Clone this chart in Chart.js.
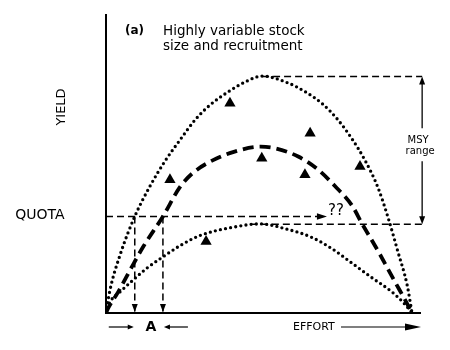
<!DOCTYPE html>
<html>
<head>
<meta charset="utf-8">
<script src="https://cdn.jsdelivr.net/npm/chart.js@4/dist/chart.umd.min.js"></script>
<style>
  html, body { margin: 0; padding: 0; background: #fff; }
  #wrap { width: 450px; height: 350px; }
</style>
</head>
<body>
<div id="wrap"><canvas id="c" width="450" height="350"></canvas></div>
<script>
// Effort: 0 = no fishing, 100 = effort at which the stock is fished out.
// Yield in arbitrary units.

// Yield curve in a good recruitment year (upper dotted)
const upperEffort = [0, 1.3, 4.6, 9.4, 14.4, 19.3, 24.2, 29.1, 34.0, 39.9, 45.4, 51.0, 59.5, 65.0, 70.6, 75.8, 80.4, 84.6, 88.9, 92.2, 95.4, 98.4, 100];
const upperYield  = [0, 7.7, 19.5, 32.4, 42.6, 51.0, 58.1, 64.8, 69.8, 74.2, 77.5, 79.5, 77.2, 74.3, 70.3, 64.8, 58.4, 51.3, 42.0, 31.9, 20.5, 9.4, 0];

// Average yield curve (dashed)
const meanEffort = [0, 0.75, 4.0, 8.4, 12.2, 18.6, 24.2, 28.4, 35.0, 41.5, 50.5, 55.2, 62.8, 69.4, 74.8, 80.3, 83.6, 89.0, 94.4, 98.3, 100];
const meanYield  = [0, 1.7, 7.1, 15.4, 22.3, 32.4, 42.3, 47.0, 51.3, 54.0, 55.8, 55.3, 52.5, 48.0, 42.6, 36.2, 30.1, 20.6, 10.5, 3.3, 0];

// Yield curve in a poor recruitment year (lower dotted)
const lowerEffort = [0, 1.1, 4.6, 8.9, 13.3, 18.7, 24.2, 30.7, 41.6, 50.3, 59.6, 67.2, 73.8, 80.3, 86.8, 93.4, 97.7, 100];
const lowerYield  = [0, 3.3, 7.1, 11.1, 15.0, 18.9, 22.6, 26.0, 28.8, 29.9, 28.0, 25.4, 21.6, 16.8, 11.9, 7.1, 2.9, 0];

// Observed annual catches
const obsEffort = [40.5, 20.9, 66.7, 50.9, 65.0, 83.0, 32.7];
const obsYield  = [70.4, 44.7, 60.3, 51.9, 46.4, 49.2, 24.0];

// Quota and the range of effort needed to take it
const quota = 32.4;
const quotaEffortLow = 9.4;
const quotaEffortHigh = 18.6;
const quotaArrowEffort = 72.2;

// MSY range between the poor-year and good-year peaks
const msyHigh = 79.4;
const msyLow = 29.8;
const msyHighStart = 51.0;
const msyLowStart = 47.0;
const bracketEffort = 103.3;

const pts = (xs, ys) => xs.map((v, i) => ({ x: v, y: ys[i] }));

const curve = (xs, ys, dash, width) => ({
  data: pts(xs, ys), showLine: true, pointRadius: 0, borderColor: '#000',
  borderWidth: width, borderDash: dash, borderCapStyle: dash[0] === 0 ? 'round' : 'butt',
  cubicInterpolationMode: 'monotone', fill: false
});

const refLine = (xs, ys) => ({
  data: pts(xs, ys), showLine: true, pointRadius: 0, borderColor: '#000',
  borderWidth: 1.5, borderDash: [7, 4], tension: 0, fill: false, clip: false
});

function head(ctx, tx, ty, dx, dy, len, hw) {
  const bx = tx - dx * len, by = ty - dy * len;
  ctx.beginPath();
  ctx.moveTo(tx, ty);
  ctx.lineTo(bx - dy * hw, by + dx * hw);
  ctx.lineTo(bx + dy * hw, by - dx * hw);
  ctx.closePath();
  ctx.fill();
}

function seg(ctx, x1, y1, x2, y2) {
  ctx.beginPath(); ctx.moveTo(x1, y1); ctx.lineTo(x2, y2); ctx.stroke();
}

const FONT = '"DejaVu Sans", sans-serif';

const overlay = {
  id: 'overlay',
  afterDatasetsDraw(chart) {
    const { ctx, scales: { x, y } } = chart;
    const px = v => x.getPixelForValue(v), py = v => y.getPixelForValue(v);
    ctx.save();
    ctx.fillStyle = '#000';
    ctx.strokeStyle = '#000';
    ctx.setLineDash([]);

    // quota arrow and the effort drop lines
    head(ctx, px(quotaArrowEffort), py(quota), 1, 0, 10, 3.2);
    head(ctx, px(quotaEffortLow), py(0) - 1, 0, 1, 8, 3);
    head(ctx, px(quotaEffortHigh), py(0) - 1, 0, 1, 8, 3);

    ctx.font = '15px ' + FONT;
    ctx.textAlign = 'left';
    ctx.textBaseline = 'middle';
    ctx.fillText('??', px(quotaArrowEffort) + 1, py(quota) - 5);

    // MSY range bracket
    const bx = px(bracketEffort), top = py(msyHigh), bot = py(msyLow);
    const mid = (top + bot) / 2 - 5;
    ctx.lineWidth = 1.3;
    seg(ctx, bx, top + 4, bx, mid - 17);
    seg(ctx, bx, mid + 16, bx, bot - 4);
    head(ctx, bx, top, 0, -1, 8, 3);
    head(ctx, bx, bot, 0, 1, 8, 3);
    ctx.font = '10px ' + FONT;
    ctx.textAlign = 'center';
    ctx.fillText('MSY', bx - 4, mid - 5);
    ctx.fillText('range', bx - 2, mid + 6);

    // vertical axis labels
    ctx.font = '14px ' + FONT;
    ctx.fillText('QUOTA', 40, py(quota) - 1);
    ctx.save();
    ctx.translate(62, 107);
    ctx.rotate(-Math.PI / 2);
    ctx.font = '13px ' + FONT;
    ctx.fillText('YIELD', 0, 0);
    ctx.restore();

    // effort range A and effort axis label
    const by = y.bottom + 14;
    const xl = px(quotaEffortLow), xh = px(quotaEffortHigh);
    ctx.lineWidth = 1.2;
    seg(ctx, xl - 26, by, xl - 5, by);
    head(ctx, xl - 1, by, 1, 0, 6, 2.5);
    seg(ctx, xh + 25, by, xh + 5, by);
    head(ctx, xh + 1, by, -1, 0, 6, 2.5);
    ctx.font = 'bold 14px ' + FONT;
    ctx.fillText('A', (xl + xh) / 2 + 2, by);

    ctx.font = '11px ' + FONT;
    ctx.textAlign = 'left';
    ctx.fillText('EFFORT', 293, by);
    seg(ctx, 341, by, 407, by);
    head(ctx, 421, by, 1, 0, 16, 3.5);

    // panel title
    ctx.font = 'bold 12px ' + FONT;
    ctx.fillText('(a)', 125, 31);
    ctx.font = '13.5px ' + FONT;
    ctx.fillText('Highly variable stock', 163, 31);
    ctx.fillText('size and recruitment', 163, 46);
    ctx.restore();
  }
};

Chart.defaults.font.family = FONT;

new Chart(document.getElementById('c'), {
  type: 'scatter',
  data: {
    datasets: [
      {
        data: pts(obsEffort, obsYield), pointStyle: 'triangle', pointRadius: 6.5,
        backgroundColor: '#000', borderColor: '#000', borderWidth: 0, showLine: false
      },
      curve(upperEffort, upperYield, [0, 5.2], 3.3),
      curve(meanEffort, meanYield, [11, 6], 3.8),
      curve(lowerEffort, lowerYield, [0, 5.2], 3.3),
      refLine([0, quotaArrowEffort - 2], [quota, quota]),
      refLine([quotaEffortLow, quotaEffortLow], [quota, 0.5]),
      refLine([quotaEffortHigh, quotaEffortHigh], [quota, 0.5]),
      refLine([msyHighStart, bracketEffort], [msyHigh, msyHigh]),
      refLine([msyLowStart, bracketEffort], [msyLow, msyLow])
    ]
  },
  options: {
    responsive: false,
    animation: false,
    devicePixelRatio: 1,
    layout: { autoPadding: false, padding: { left: 106, right: 30, top: 15, bottom: 37 } },
    plugins: { legend: { display: false }, tooltip: { enabled: false } },
    scales: {
      x: {
        type: 'linear', min: 0, max: 102.6,
        ticks: { display: false },
        grid: { display: false, drawTicks: false },
        border: { display: true, color: '#000', width: 2 }
      },
      y: {
        type: 'linear', min: 0, max: 100,
        ticks: { display: false },
        grid: { display: false, drawTicks: false },
        border: { display: true, color: '#000', width: 2 }
      }
    }
  },
  plugins: [overlay]
});
</script>
</body>
</html>
